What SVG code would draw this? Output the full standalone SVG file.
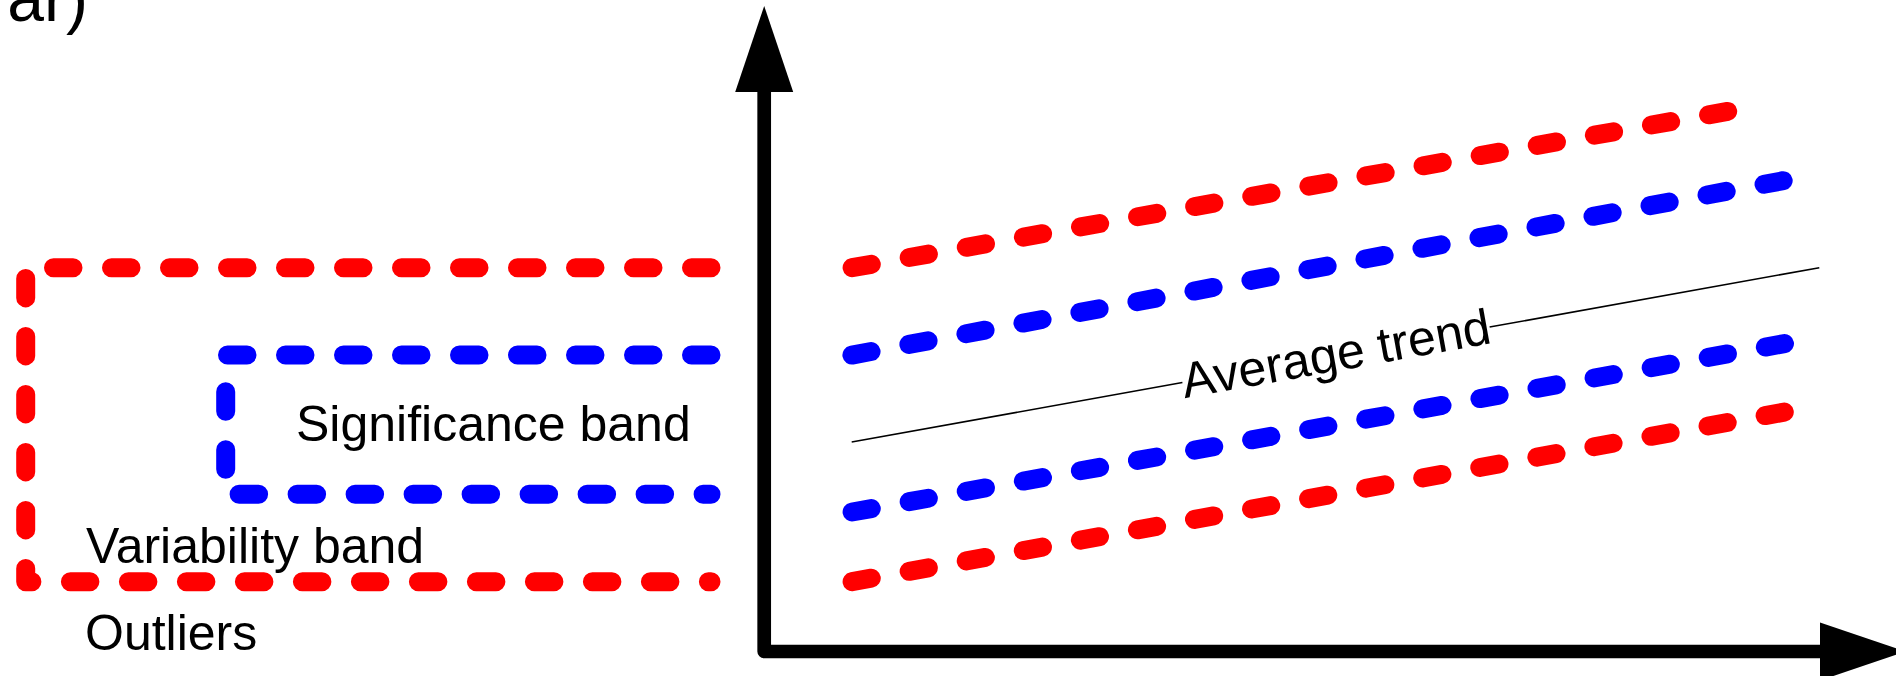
<svg xmlns="http://www.w3.org/2000/svg" width="1896" height="676" viewBox="0 0 1896 676">
  <defs>
    <style>
      .red { fill: none; stroke: #ff0000; stroke-width: 19; stroke-linecap: round; stroke-linejoin: round; stroke-dasharray: 19.5 38.5; }
      .blue { fill: none; stroke: #0000ff; stroke-width: 19; stroke-linecap: round; stroke-linejoin: round; stroke-dasharray: 19.5 38.5; }
      .axis { fill: none; stroke: #000000; stroke-width: 13.7; stroke-linejoin: round; }
      .trend { fill: none; stroke: #000000; stroke-width: 1.6; }
      .lbl { font-family: "Liberation Sans", Arial, sans-serif; font-size: 50px; fill: #000000; }
    </style>
    <marker id="arrowhead" markerUnits="userSpaceOnUse" viewBox="0 0 86 58" refX="0" refY="29" markerWidth="86" markerHeight="58" orient="auto-start-reverse" overflow="visible">
      <path d="M0,0 L86,29 L0,58 Z" fill="#000000"/>
    </marker>
  </defs>
  <rect x="0" y="0" width="1896" height="676" fill="#ffffff"/>

  <g id="title-fragment">
    <text class="lbl" x="88" y="21" text-anchor="end" style="font-size:66px">ar)</text>
  </g>

  <g id="legend-variability-band">
    <path class="red" d="M711,267.7 H25.7 V581.7 H711"/>
  </g>
  <g id="legend-significance-band">
    <path class="blue" d="M711,355 H225.7 V494.3 H711"/>
  </g>
  <g id="legend-labels">
    <text class="lbl" x="296" y="441">Significance band</text>
    <text class="lbl" x="86" y="562.5">Variability band</text>
    <text class="lbl" x="85" y="649.5">Outliers</text>
  </g>

  <g id="connectors">
    <path class="axis" d="M764.2,92 V651.5 H1820" marker-start="url(#arrowhead)" marker-end="url(#arrowhead)"/>
  </g>

  <g id="chart-bands">
    <path class="red" d="M852.1,267.7 L1727.7,111.4"/>
    <path class="blue" d="M851.9,355.1 L1783.2,180.7"/>
    <path class="blue" d="M852.1,512.0 L1784.5,343.6"/>
    <path class="red" d="M852.1,581.7 L1784.3,412.1"/>
  </g>

  <g id="average-trend">
    <path class="trend" d="M851.7,442 L1182.4,382.5"/>
    <path class="trend" d="M1489.6,327.0 L1819.3,267.7"/>
    <text class="lbl" x="0" y="16" text-anchor="middle" transform="translate(1336,354.8) rotate(-10.21)">Average trend</text>
  </g>
</svg>
